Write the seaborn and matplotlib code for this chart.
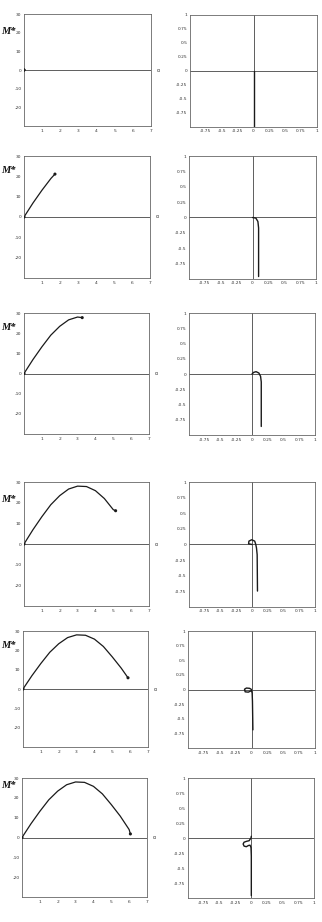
import matplotlib
matplotlib.use("Agg")
import matplotlib.pyplot as plt
import seaborn as sns

sns.set_style("white")
plt.rcParams['font.family'] = ['DejaVu Sans']

# ---- left panels: M* versus alpha ----
alpha_grid = [0, 0.5, 1, 1.5, 2, 2.5, 3, 3.5, 4, 4.5, 5, 5.5, 6]
m_grid = [0, 6.9, 13.2, 19.0, 23.4, 26.6, 28.0, 27.8, 25.8, 22.0, 16.6, 10.8, 4.0]
end_alpha = [0.0, 1.72, 3.26, 5.13, 5.88, 6.07]
end_m = [0.0, 21.1, 27.7, 16.1, 5.8, 1.8]

left_yticks = [-20, -10, 0, 10, 20, 30]
left_xticks = [1, 2, 3, 4, 5, 6, 7]

# ---- right panels: deformed shapes (x, y) ----
shape_x = [
    [0.0, 0.0],
    [0.0, 0.053, 0.085, 0.096, 0.096],
    [0.0, 0.027, 0.065, 0.109, 0.136, 0.147, 0.147],
    [0.0, -0.054, -0.049, -0.005, 0.043, 0.060, 0.071, 0.082, 0.087],
    [0.0, -0.03, -0.08, -0.11, -0.10, -0.05, 0.0, 0.01, 0.015, 0.022],
    [0.005, 0.0, -0.03, -0.07, -0.11, -0.125, -0.11, -0.075, -0.04, -0.015, 0.0, 0.005, 0.005],
]
shape_y = [
    [0.0, -1.0],
    [0.0, -0.01, -0.065, -0.17, -0.96],
    [0.0, 0.027, 0.038, 0.016, -0.038, -0.13, -0.86],
    [0.0, 0.011, 0.054, 0.076, 0.054, 0.0, -0.054, -0.163, -0.745],
    [0.0, 0.02, 0.025, 0.005, -0.04, -0.045, -0.02, -0.06, -0.2, -0.69],
    [0.03, 0.0, -0.045, -0.055, -0.07, -0.10, -0.135, -0.145, -0.125, -0.12, -0.16, -0.3, -0.96],
]
right_ticks = [-0.75, -0.5, -0.25, 0, 0.25, 0.5, 0.75, 1]
right_labels = ["-0.75", "-0.5", "-0.25", "0", "0.25", "0.5", "0.75", "1"]

W, H = 322, 922
fig = plt.figure(figsize=(W / 100, H / 100), dpi=100)

# pixel boxes (left, top, right, bottom)
left_boxes = [(24, 14, 151, 126), (24, 156, 150, 278), (24, 313, 149, 434),
              (24, 482, 149, 606), (23, 631, 148, 747), (22, 778, 147, 897)]
right_boxes = [(190, 15, 317, 127), (189, 156, 316, 279), (189, 313, 315, 435),
               (189, 482, 315, 607), (188, 631, 315, 748), (188, 778, 314, 898)]
mstar_y = [31, 170, 327, 499, 645, 786]

spine_col = "#666666"
txt_col = "#333333"
line_col = "#1a1a1a"
fs = 3.2


def make_ax(box):
    l, t, r, b = box
    ax = fig.add_axes([l / W, 1 - b / H, (r - l) / W, (b - t) / H])
    for s in ax.spines.values():
        s.set_color(spine_col)
        s.set_linewidth(0.6)
        s.set_visible(True)
    ax.tick_params(direction="in", length=1.2, width=0.4, colors=spine_col,
                   labelsize=fs, labelcolor=txt_col, pad=1.8)
    return ax


for i in range(6):
    # ---- left ----
    ax = make_ax(left_boxes[i])
    a_vals = [a for a in alpha_grid if a < end_alpha[i]] + [end_alpha[i]]
    m_vals = [m for a, m in zip(alpha_grid, m_grid) if a < end_alpha[i]] + [end_m[i]]
    ax.axhline(0, color="#444444", lw=0.6, zorder=1)
    if len(a_vals) > 1:
        sns.lineplot(x=a_vals, y=m_vals, sort=False, estimator=None, ax=ax,
                     color=line_col, lw=0.9)
    sns.scatterplot(x=[end_alpha[i]], y=[end_m[i]], ax=ax, color=line_col,
                    s=5, edgecolor="none", zorder=5)
    sns.scatterplot(x=[0], y=[0], ax=ax, color=line_col, s=5,
                    edgecolor="none", zorder=5)
    ax.set_xlim(0, 7)
    ax.set_ylim(-30, 30)
    ax.set_xticks(left_xticks)
    ax.set_yticks(left_yticks)
    ax.set_xticklabels([str(v) for v in left_xticks])
    ax.set_yticklabels([str(v) for v in left_yticks])
    ax.text(7.3, 0, "α", fontsize=3.5, color=txt_col, va="center", ha="left",
            clip_on=False)
    fig.text(1.5 / W, 1 - mstar_y[i] / H, "M*", fontsize=7.5, fontweight="bold",
             fontstyle="italic", family="Liberation Serif", color="#111111",
             va="center", ha="left")

    # ---- right ----
    ax2 = make_ax(right_boxes[i])
    ax2.axhline(0, color="#444444", lw=0.6, zorder=1)
    ax2.axvline(0, color="#444444", lw=0.6, zorder=1)
    sns.lineplot(x=shape_x[i], y=shape_y[i], sort=False, estimator=None,
                 ax=ax2, color=line_col, lw=1.0)
    ax2.set_xlim(-1, 1)
    ax2.set_ylim(-1, 1)
    ax2.set_xticks(right_ticks)
    ax2.set_yticks(right_ticks)
    ax2.set_xticklabels(right_labels)
    ax2.set_yticklabels(right_labels)

fig.savefig("out.png", dpi=100)
